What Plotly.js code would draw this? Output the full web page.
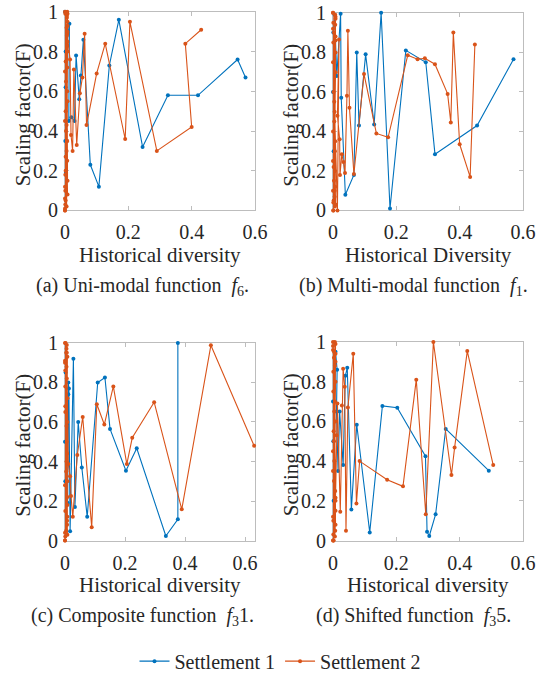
<!DOCTYPE html>
<html>
<head>
<meta charset="utf-8">
<script src="https://cdn.plot.ly/plotly-3.0.1.min.js"></script>
<style>html,body{margin:0;padding:0;background:#fff;}#chart{width:550px;height:681px;}</style>
</head>
<body>
<div id="chart"></div>
<script>
// ---------- data ----------
var seriesNames = ["Settlement 1", "Settlement 2"];
var xTickVals = [0, 0.2, 0.4, 0.6];
var yTickVals = [0, 0.2, 0.4, 0.6, 0.8, 1];

// (a) Uni-modal function f6
var a_s1_x = [0.000,0.002,0.001,0.003,0.002,0.014,0.012,0.020,0.030,0.035,0.045,0.050,0.058,0.080,0.107,0.140,0.170,0.245,0.325,0.420,0.545,0.570];
var a_s1_y = [1.00,0.62,0.35,0.19,0.80,0.94,0.45,0.47,0.45,0.78,0.56,0.68,0.86,0.23,0.12,0.73,0.96,0.32,0.58,0.58,0.76,0.67];
var a_s2_x = [0.000,0.006,0.002,0.008,0.000,0.007,0.002,0.008,0.005,0.000,0.005,0.008,0.001,0.007,0.003,0.000,0.008,0.002,0.007,0.005,0.001,0.008,0.000,0.006,0.008,0.001,0.007,0.003,0.000,0.008,0.002,0.006,0.000,0.008,0.001,0.007,0.000,0.008,0.002,0.007,0.006,0.005,0.007,0.016,0.019,0.024,0.028,0.037,0.047,0.055,0.062,0.068,0.100,0.127,0.190,0.205,0.290,0.400,0.380,0.430];
var a_s2_y = [0.00,0.98,0.05,0.90,0.12,1.00,0.20,0.85,0.02,0.70,0.30,0.95,0.10,0.60,0.40,1.00,0.08,0.75,0.25,0.92,0.03,0.55,0.45,0.88,0.15,0.99,0.35,0.65,0.00,0.80,0.50,0.97,0.06,0.93,0.18,0.83,0.01,0.99,0.27,0.72,0.35,0.43,0.89,0.76,0.38,0.30,0.71,0.33,0.59,0.67,0.89,0.43,0.69,0.84,0.36,0.95,0.30,0.42,0.84,0.91];

// (b) Multi-modal function f1
var b_s1_x = [0.000,0.002,0.001,0.005,0.012,0.024,0.026,0.039,0.066,0.075,0.082,0.103,0.130,0.152,0.180,0.230,0.293,0.322,0.455,0.570];
var b_s1_y = [0.60,0.30,0.90,0.99,0.68,0.995,0.57,0.08,0.18,0.80,0.43,0.79,0.435,1.00,0.01,0.81,0.75,0.285,0.43,0.765];
var b_s2_x = [0.000,0.006,0.001,0.005,0.008,0.000,0.007,0.002,0.008,0.003,0.000,0.007,0.001,0.008,0.004,0.000,0.006,0.002,0.005,0.008,0.000,0.007,0.001,0.004,0.008,0.000,0.006,0.003,0.001,0.008,0.000,0.007,0.002,0.008,0.001,0.005,0.014,0.019,0.014,0.021,0.022,0.028,0.033,0.038,0.044,0.047,0.052,0.066,0.098,0.137,0.174,0.236,0.267,0.290,0.322,0.362,0.372,0.380,0.400,0.433,0.448];
var b_s2_y = [1.00,0.02,0.95,0.10,0.88,0.25,0.99,0.05,0.70,0.15,0.92,0.35,0.00,0.80,0.45,1.00,0.20,0.60,0.07,0.97,0.40,0.12,0.85,0.55,0.03,0.75,0.30,0.90,0.00,0.98,0.10,0.94,0.22,0.86,0.04,0.50,0.00,0.865,0.48,0.36,0.18,0.285,0.245,0.19,0.58,0.91,0.52,0.185,0.69,0.39,0.37,0.785,0.765,0.77,0.74,0.59,0.445,0.90,0.335,0.17,0.84];

// (c) Composite function f31
var c_s1_x = [0.000,0.002,0.001,0.009,0.011,0.011,0.013,0.017,0.028,0.033,0.044,0.056,0.074,0.109,0.133,0.150,0.203,0.239,0.336,0.376,0.376];
var c_s1_y = [0.50,0.85,0.30,0.19,0.74,0.80,0.77,0.047,0.92,0.17,0.60,0.37,0.12,0.80,0.825,0.565,0.353,0.467,0.023,0.108,1.00];
var c_s2_x = [0.000,0.004,0.008,0.001,0.006,0.000,0.005,0.008,0.001,0.007,0.000,0.004,0.008,0.001,0.006,0.000,0.005,0.008,0.001,0.007,0.000,0.004,0.008,0.001,0.006,0.000,0.005,0.008,0.002,0.007,0.000,0.008,0.001,0.005,0.006,0.008,0.011,0.017,0.020,0.026,0.041,0.059,0.089,0.106,0.131,0.161,0.206,0.224,0.297,0.389,0.486,0.630];
var c_s2_y = [1.00,0.05,0.93,0.15,0.82,0.00,0.97,0.22,0.65,0.08,0.90,0.35,0.72,0.02,0.99,0.28,0.58,0.12,0.86,0.44,0.04,0.95,0.18,0.78,0.50,0.00,0.88,0.30,1.00,0.10,0.91,0.03,0.68,0.40,0.95,0.60,0.387,0.325,0.225,0.12,0.433,0.625,0.067,0.69,0.587,0.78,0.387,0.52,0.70,0.158,0.988,0.48];

// (d) Shifted function f35
var d_s1_x = [0.000,0.002,0.001,0.008,0.013,0.011,0.016,0.021,0.032,0.039,0.045,0.058,0.075,0.116,0.156,0.203,0.292,0.297,0.304,0.324,0.356,0.492];
var d_s1_y = [0.70,0.20,0.50,0.95,0.86,0.65,0.35,0.65,0.38,0.83,0.87,0.157,0.583,0.041,0.678,0.669,0.425,0.045,0.023,0.132,0.562,0.352];
var d_s2_x = [0.000,0.006,0.001,0.008,0.003,0.000,0.007,0.001,0.008,0.003,0.000,0.006,0.001,0.008,0.004,0.000,0.007,0.002,0.008,0.003,0.000,0.006,0.001,0.008,0.004,0.000,0.007,0.002,0.008,0.000,0.006,0.001,0.008,0.003,0.008,0.011,0.014,0.023,0.028,0.032,0.037,0.041,0.047,0.064,0.074,0.084,0.171,0.221,0.263,0.293,0.317,0.374,0.384,0.424,0.506];
var d_s2_y = [0.00,1.00,0.10,0.90,0.30,0.98,0.05,0.75,0.20,0.95,0.45,0.02,0.85,0.15,0.65,1.00,0.25,0.55,0.08,0.92,0.35,0.70,0.00,0.80,0.40,0.96,0.60,0.00,0.99,0.12,0.88,0.03,0.94,0.50,0.215,0.53,0.69,0.145,0.68,0.865,0.774,0.05,0.67,0.94,0.187,0.40,0.306,0.273,0.81,0.132,1.00,0.33,0.468,0.954,0.38];

var captions = [
  "(a) Uni-modal function  <i>f</i><sub>6</sub>.",
  "(b) Multi-modal function  <i>f</i><sub>1</sub>.",
  "(c) Composite function  <i>f</i><sub>3</sub>1.",
  "(d) Shifted function  <i>f</i><sub>3</sub>5."
];
var xTitles = ["Historical diversity", "Historical Diversity", "Historical diversity", "Historical diversity"];
var yTitle = "Scaling factor(F)";
var xMax = [0.6, 0.6, 0.633, 0.6];

// ---------- styles ----------
var W = 550, H = 681;
var BLUE = "#0072BD", ORANGE = "#D95319";
var FONT = "Liberation Serif";
var TXT = "#262626";
var AX = "#bdbdbd";

// panel boxes in pixels: [left, right, top, bottom]
var boxes = [
  [65, 255, 12, 213],
  [333, 523, 13, 213],
  [65, 255, 347, 547],
  [333, 523, 346, 547]
];
var captionCx = [142, 413, 142, 413];

function px2x(p){ return p / W; }
function px2y(p){ return 1 - p / H; }

var panels = [
  [a_s1_x, a_s1_y, a_s2_x, a_s2_y],
  [b_s1_x, b_s1_y, b_s2_x, b_s2_y],
  [c_s1_x, c_s1_y, c_s2_x, c_s2_y],
  [d_s1_x, d_s1_y, d_s2_x, d_s2_y]
];

var data = [];
var layout = {
  width: W, height: H,
  margin: {l: 0, r: 0, t: 0, b: 0},
  paper_bgcolor: "#ffffff",
  plot_bgcolor: "#ffffff",
  showlegend: true,
  font: {family: FONT, color: TXT},
  legend: {
    orientation: "h",
    x: 0.51, xanchor: "center",
    y: px2y(669), yanchor: "middle",
    font: {family: FONT, size: 20, color: TXT},
    itemwidth: 30,
    bgcolor: "rgba(0,0,0,0)"
  },
  annotations: []
};

panels.forEach(function(p, i){
  var n = i + 1;
  var xa = "x" + (n === 1 ? "" : n), ya = "y" + (n === 1 ? "" : n);
  var b = boxes[i];
  var common = {
    showline: true, mirror: "ticks", linecolor: AX, linewidth: 1,
    ticks: "inside", ticklen: 4, tickcolor: AX, tickwidth: 1,
    showgrid: false, zeroline: false, layer: "below traces",
    tickfont: {family: FONT, size: 20, color: TXT}, fixedrange: true
  };
  layout["xaxis" + (n === 1 ? "" : n)] = Object.assign({}, common, {
    domain: [px2x(b[0]), px2x(b[1])], anchor: ya,
    range: [0, xMax[i]], tickvals: xTickVals, ticktext: xTickVals.map(String),
    ticklabelstandoff: 4
  });
  layout["yaxis" + (n === 1 ? "" : n)] = Object.assign({}, common, {
    domain: [px2y(b[3]), px2y(b[2])], anchor: xa,
    range: [0, 1], tickvals: yTickVals, ticktext: yTickVals.map(String),
    ticklabelstandoff: 2
  });
  data.push({
    type: "scatter", mode: "lines+markers", x: p[0], y: p[1], xaxis: xa, yaxis: ya,
    name: seriesNames[0], showlegend: i === 0, legendgroup: "s1",
    line: {color: BLUE, width: 1.1},
    marker: {color: BLUE, size: 4, symbol: "circle"},
    cliponaxis: false
  });
  data.push({
    type: "scatter", mode: "lines+markers", x: p[2], y: p[3], xaxis: xa, yaxis: ya,
    name: seriesNames[1], showlegend: i === 0, legendgroup: "s2",
    line: {color: ORANGE, width: 1.1},
    marker: {color: ORANGE, size: 4, symbol: "circle"},
    cliponaxis: false
  });
  var cx = (b[0] + b[1]) / 2;
  // x title
  layout.annotations.push({
    text: xTitles[i], xref: "paper", yref: "paper",
    x: px2x(cx), y: px2y(b[3] + 45), xanchor: "center", yanchor: "middle",
    showarrow: false, font: {family: FONT, size: 21, color: TXT}
  });
  // y title
  layout.annotations.push({
    text: yTitle, xref: "paper", yref: "paper", textangle: -90,
    x: px2x(b[0] - 42), y: px2y((b[2] + b[3]) / 2 + 4), xanchor: "center", yanchor: "middle",
    showarrow: false, font: {family: FONT, size: 21, color: TXT}
  });
  // caption
  layout.annotations.push({
    text: captions[i], xref: "paper", yref: "paper",
    x: px2x(captionCx[i]), y: px2y(b[3] + 77), xanchor: "center", yanchor: "middle",
    showarrow: false, font: {family: FONT, size: 20, color: TXT}
  });
});

Plotly.newPlot("chart", data, layout, {staticPlot: true, displayModeBar: false});
</script>
</body>
</html>
